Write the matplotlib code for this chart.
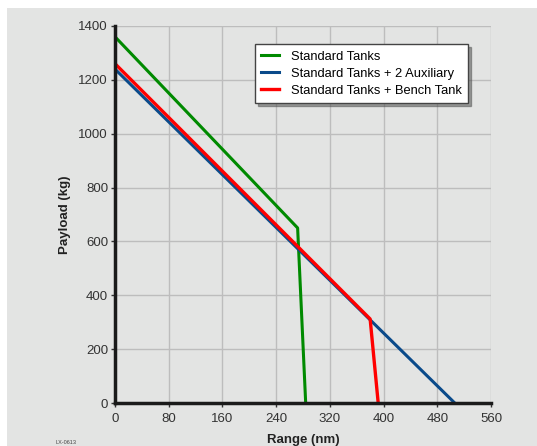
import matplotlib
matplotlib.use("Agg")
import matplotlib.pyplot as plt
from matplotlib.patches import Rectangle

# payload-range curves
std_range = [0, 272, 284]
std_payload = [1360, 650, 0]

aux_range = [0, 506]
aux_payload = [1240, 0]

bench_range = [0, 380, 392]
bench_payload = [1260, 312, 0]

labels = ["Standard Tanks", "Standard Tanks + 2 Auxiliary", "Standard Tanks + Bench Tank"]
colors = ["#008a00", "#0a4a8a", "#ff0000"]

x_ticks = list(range(0, 561, 80))
y_ticks = list(range(0, 1401, 200))

plt.rcParams["font.family"] = ["Liberation Sans", "DejaVu Sans"]

bg = "#e3e4e3"
fig = plt.figure(figsize=(5.37, 4.46), dpi=100)
fig.patches.append(Rectangle((7 / 537, 0), 1, 1 - 8 / 446, transform=fig.transFigure,
                             facecolor=bg, edgecolor="none", zorder=-10))

ax = fig.add_axes([115 / 537, 1 - 403 / 446, 376 / 537, 377 / 446])
ax.set_facecolor(bg)

ax.plot(std_range, std_payload, color=colors[0], lw=2.2, label=labels[0], zorder=3)
ax.plot(aux_range, aux_payload, color=colors[1], lw=2.2, label=labels[1], zorder=3)
ax.plot(bench_range, bench_payload, color=colors[2], lw=2.4, label=labels[2], zorder=4)

ax.set_xlim(0, 560)
ax.set_ylim(0, 1400)
ax.set_xticks(x_ticks)
ax.set_yticks(y_ticks)
ax.grid(True, color="#bdbdbd", lw=1.0)
ax.set_axisbelow(True)

for s in ["top", "right"]:
    ax.spines[s].set_visible(False)
for s in ["left", "bottom"]:
    ax.spines[s].set_linewidth(2.5)
    ax.spines[s].set_color("#1a1a1a")
    ax.spines[s].set_zorder(5)

ax.tick_params(labelsize=9.5, colors="#333333", length=3, width=1, pad=2)
ax.tick_params(axis="x", pad=4.5)
ax.set_xlabel("Range (nm)", fontsize=9.5, fontweight="bold", color="#222222", labelpad=6)
ax.set_ylabel("Payload (kg)", fontsize=9.5, fontweight="bold", color="#222222", labelpad=5)

leg = ax.legend(loc="upper left", bbox_to_anchor=(0.372, 0.952), fontsize=9.3, frameon=True,
                fancybox=False, shadow=True, handlelength=1.4, borderpad=0.5,
                labelspacing=0.4, handletextpad=0.9, borderaxespad=0)
leg.get_frame().set_edgecolor("#444444")
leg.get_frame().set_linewidth(1.0)

fig.text(55 / 537, 1 - 442 / 446, "LX-0613", fontsize=4, color="#444444", va="center")

fig.savefig("out.png", dpi=100)
